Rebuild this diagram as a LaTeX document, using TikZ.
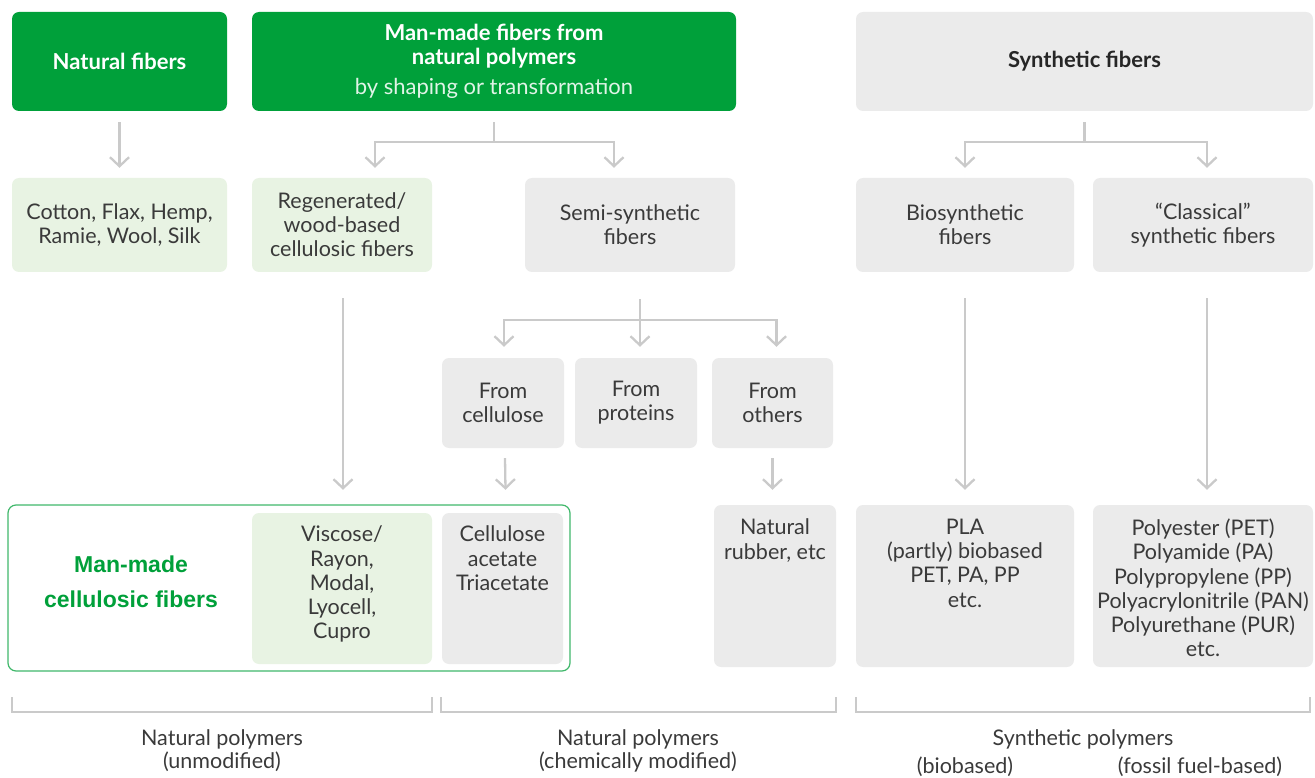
\documentclass[tikz,border=0pt]{standalone}
\usepackage{fontspec}
\setmainfont{Lato}
\newfontfamily\arialfont{Liberation Sans}
\usetikzlibrary{positioning,calc,arrows.meta}
\definecolor{fibgreen}{RGB}{0,160,58}
\definecolor{palegreen}{RGB}{232,243,227}
\definecolor{palegray}{RGB}{235,235,235}
\definecolor{linegray}{RGB}{202,202,202}
\definecolor{textgray}{RGB}{58,58,58}

\begin{document}
\begin{tikzpicture}[
    x=1pt, y=-1pt,
    header/.style={rectangle, rounded corners=7pt, fill=#1, inner sep=0pt,
                   minimum height=99pt, align=center,
                   font=\fontsize{22}{24}\selectfont\bfseries},
    fibbox/.style={rectangle, rounded corners=7pt, fill=#1, inner sep=0pt,
                   align=center, text=textgray,
                   font=\fontsize{21.5}{24}\selectfont},
    boxtext/.style={anchor=north, inner sep=0pt, align=center, text=textgray,
                    font=\fontsize{21.5}{24.2}\selectfont},
    foot/.style={inner sep=0pt, align=center, text=textgray,
                 font=\fontsize{21.5}{23}\selectfont},
    arrow/.style={-{Straight Barb[length=9pt,width=19pt]}, line width=2.3pt, draw=linegray},
    link/.style={line width=2.3pt, draw=linegray},
    bracket/.style={line width=2.3pt, draw=linegray}
]
\useasboundingbox (0,0) rectangle (1315,778);

% top row
\node[header=fibgreen, text=white, minimum width=215pt] (natfib) at (119.5,61.5) {Natural fibers};
\node[header=fibgreen, text=white, minimum width=484pt] (mmfib) at (494,61.5) {
    Man-made fibers from\\
    natural polymers\\[6pt]
    {\mdseries\color{white!88!fibgreen}by shaping or transformation}
};
\node[header=palegray, text=black!85, minimum width=457pt] (synfib) at (1084.5,61.5) {Synthetic fibers};

% second row
\node[fibbox=palegreen, minimum width=215pt, minimum height=94pt] (cotton) at (119.5,225) {Cotton, Flax, Hemp,\\Ramie, Wool, Silk};
\node[fibbox=palegreen, minimum width=180pt, minimum height=94pt] (regen) at (342,225) {Regenerated/\\wood-based\\cellulosic fibers};
\node[fibbox=palegray, minimum width=210pt, minimum height=94pt] (semi) at (630,225) {Semi-synthetic\\fibers};
\node[fibbox=palegray, minimum width=218pt, minimum height=94pt] (biosyn) at (965,225) {Biosynthetic\\fibers};
\node[fibbox=palegray, minimum width=220pt, minimum height=94pt] (classic) at (1203,225) {``Classical''\\synthetic fibers};

% third row
\node[fibbox=palegray, minimum width=122pt, minimum height=90pt] (fromcell) at (503,403) {From\\cellulose};
\node[fibbox=palegray, minimum width=122pt, minimum height=90pt] (fromprot) at (636,403) {From\\proteins};
\node[fibbox=palegray, minimum width=121pt, minimum height=90pt] (fromoth) at (772.5,403) {From\\others};

% bottom row
\node[rectangle, rounded corners=8pt, draw=fibgreen!75, line width=1.2pt, fill=white,
      minimum width=562pt, minimum height=166pt] (mmcf) at (289,588) {};
\node[text=fibgreen, align=center, font=\arialfont\fontsize{23}{35}\selectfont\bfseries] (mmcflabel) at (131,582) {Man-made\\cellulosic fibers};
\node[fibbox=palegreen, minimum width=180pt, minimum height=151pt] (viscose) at (342,588.5) {};
\node[fibbox=palegray, minimum width=121pt, minimum height=151pt] (acetate) at (502.5,588.5) {};
\node[fibbox=palegray, minimum width=122pt, minimum height=162pt] (rubber) at (775,586) {};
\node[fibbox=palegray, minimum width=218pt, minimum height=162pt] (pla) at (965,586) {};
\node[fibbox=palegray, minimum width=220pt, minimum height=162pt] (polyester) at (1203,586) {};

\node[boxtext] (viscosetxt) at ($(viscose.north)+(0,13)$) {Viscose/\\Rayon,\\Modal,\\Lyocell,\\Cupro};
\node[boxtext] (acetatetxt) at ($(acetate.north)+(0,13)$) {Cellulose\\acetate\\Triacetate};
\node[boxtext] (rubbertxt) at ($(rubber.north)+(0,14)$) {Natural\\rubber, etc};
\node[boxtext] (platxt) at ($(pla.north)+(0,14)$) {PLA\\(partly) biobased\\PET, PA, PP\\etc.};
\node[boxtext] (polyestertxt) at ($(polyester.north)+(0,14)$) {Polyester (PET)\\Polyamide (PA)\\Polypropylene (PP)\\Polyacrylonitrile (PAN)\\Polyurethane (PUR)\\etc.};

% connectors
\draw[arrow] ($(natfib.south)+(0,11)$) -- ($(cotton.north)+(0,-10)$);

\draw[link] ($(mmfib.south)+(0,11)$) -- ++(0,20) coordinate (mmsplit);
\draw[arrow] (mmsplit) -| ($(regen.north)+(33,-10)$);
\draw[arrow] (mmsplit) -| ($(semi.north)+(-16,-10)$);

\draw[link] ($(synfib.south)+(0,11)$) -- ++(0,20) coordinate (synsplit);
\draw[arrow] (synsplit) -| ($(biosyn.north)+(0,-10)$);
\draw[arrow] (synsplit) -| ($(classic.north)+(4,-10)$);

\draw[link] ($(semi.south)+(10,27)$) -- ++(0,21) coordinate (semisplit);
\draw[arrow] (semisplit) -| ($(fromcell.north)+(1,-11)$);
\draw[arrow] (semisplit) -- ($(semisplit |- fromprot.north)+(0,-11)$);
\draw[arrow] (semisplit) -| ($(fromoth.north)+(4,-11)$);

\draw[arrow] ($(regen.south)+(1,26)$) -- ($(viscose.north)+(1,-23)$);
\draw[arrow] ($(fromcell.south)+(2,10)$) -- ($(acetate.north)+(3,-23)$);
\draw[arrow] ($(fromoth.south)+(0,10)$) -- ($(fromoth.south |- rubber.north)+(0,-15)$);
\draw[arrow] ($(biosyn.south)+(0,26)$) -- ($(pla.north)+(0,-15)$);
\draw[arrow] ($(classic.south)+(4,26)$) -- ($(polyester.north)+(4,-15)$);

% brackets
\draw[bracket] (12,697) |- (432,712) -- (432,697);
\draw[bracket] (441,697) |- (836,712) -- (836,697);
\draw[bracket] (856,697) |- (1310,712) -- (1310,697);

\node[foot] (natpol) at (222,751) {Natural polymers\\(unmodified)};
\node[foot] (chempol) at (638,751) {Natural polymers\\(chemically modified)};
\node[foot] (synpol) at (1083,739) {Synthetic polymers};
\node[foot] (biobased) at (965,767) {(biobased)};
\node[foot] (fossil) at (1200,767) {(fossil fuel-based)};

\end{tikzpicture}
\end{document}
